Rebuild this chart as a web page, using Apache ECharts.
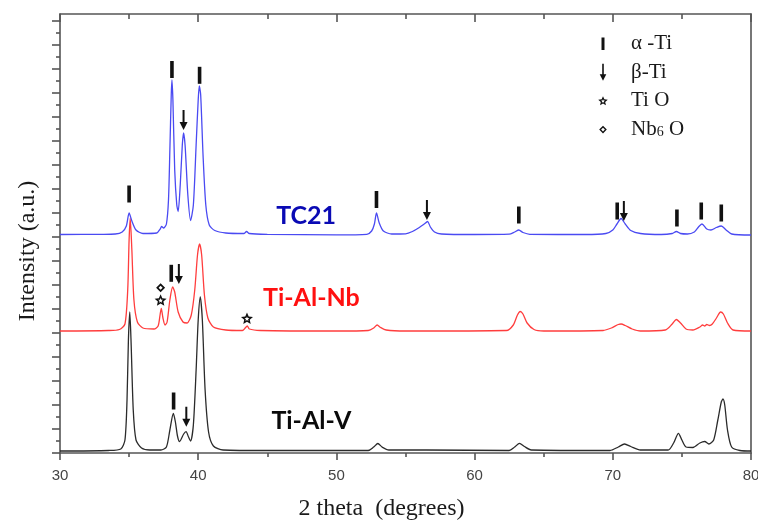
<!DOCTYPE html>
<html><head><meta charset="utf-8">
<script src="https://cdn.jsdelivr.net/npm/echarts@6/dist/echarts.min.js"></script>
<style>html,body{margin:0;padding:0;background:#fff}#c{width:758px;height:523px}</style>
</head><body><div id="c"></div>
<script>
// ---- data: [2theta (deg), intensity (a.u.)] ----
const tc21 = [[30,218.5],[33,218.7],[34,219],[34.5,221],[34.8,227],[35,240],[35.2,232],[35.5,223],[36,219.5],[37,220],[37.25,224],[37.35,226.5],[37.5,225],[37.7,229],[37.85,253],[37.95,303],[38.05,358],[38.1,373],[38.17,353],[38.3,283],[38.45,248],[38.55,241.5],[38.7,268],[38.85,308],[38.94,320],[39.05,308],[39.25,258],[39.45,232.5],[39.65,248],[39.85,308],[40,353],[40.08,367],[40.18,358],[40.35,298],[40.55,248],[40.8,228],[41.2,222.5],[42,220],[43.3,219.5],[43.5,221.5],[43.7,219.5],[45,218.7],[50,218.2],[52.2,218.7],[52.55,222],[52.75,229],[52.9,240],[53.1,230],[53.4,222],[54,219],[55,219.2],[55.5,221.5],[56,225.5],[56.35,229],[56.6,231.5],[56.8,226],[57.1,221],[57.6,219],[60,218.5],[62.5,218.8],[62.9,221],[63.2,223],[63.5,220.5],[64,218.7],[68,218.5],[69.5,219.5],[70,223],[70.3,229],[70.6,234.5],[70.9,229],[71.3,222.5],[72,219.5],[73.5,218.5],[74.3,219.5],[74.6,221.5],[74.9,219.5],[75.4,219],[75.9,221],[76.2,226],[76.45,229],[76.8,224],[77.1,223],[77.5,225.5],[77.85,227],[78.2,223],[78.6,219],[80,218]];
const tiAlNb = [[30,122],[33.5,122.5],[34.3,123.5],[34.7,129],[34.9,163],[35,213],[35.08,235],[35.2,203],[35.35,153],[35.6,131],[36,125],[36.8,124],[37.1,127],[37.25,139],[37.33,144.5],[37.45,135],[37.6,128],[37.75,131],[37.95,153],[38.15,166],[38.3,161],[38.55,141],[38.9,131],[39.2,130],[39.5,138],[39.75,163],[39.95,198],[40.1,209],[40.25,198],[40.45,158],[40.7,135],[41.1,126],[42,123],[43.2,122.5],[43.4,125],[43.55,127],[43.7,124],[44.5,122.5],[50,122],[52.3,122.5],[52.7,125],[52.95,128],[53.2,125.5],[53.6,123],[55,122],[62.3,122.5],[62.8,128],[63.1,138],[63.3,141.5],[63.5,139],[63.8,130],[64.3,123.5],[65,122],[69.3,122.5],[69.9,125],[70.4,128.5],[70.6,129],[70.9,127.5],[71.4,124],[72,122],[73.8,123],[74.3,129],[74.6,133.5],[74.9,130],[75.3,124],[75.8,123],[76.3,126],[76.5,128],[76.65,127],[76.8,128.5],[77,127.5],[77.2,129],[77.5,135],[77.8,141],[78,139],[78.3,130],[78.7,123],[80,122]];
const tiAlV = [[30,2],[33.5,2.5],[34.4,4],[34.7,13],[34.85,53],[34.95,113],[35.05,141],[35.15,108],[35.3,43],[35.5,13],[35.9,5],[36.5,3],[37.3,3],[37.7,6],[37.95,23],[38.2,39.5],[38.35,31],[38.5,17],[38.65,11.5],[38.95,19],[39.12,21.3],[39.3,16],[39.45,12],[39.65,28],[39.85,83],[40,133],[40.15,156],[40.3,133],[40.5,63],[40.75,21],[41.1,7],[41.8,3],[45,2.5],[52.3,2.5],[52.7,6],[53,9.5],[53.3,6],[53.8,3],[56.5,3],[62.5,2.5],[62.9,6],[63.25,9.7],[63.6,6.5],[64.1,3],[69.8,2.5],[70.4,6],[70.85,9],[71.3,6.5],[72,3],[74,3],[74.4,10],[74.75,19.7],[75,13],[75.3,6],[75.8,5.5],[76.3,10],[76.65,11.5],[76.95,9],[77.3,13],[77.6,33],[77.85,51],[77.97,54],[78.1,48],[78.3,23],[78.6,6],[79.2,2.5],[80,2]];

// phase markers (position of each marker symbol)
const alphaMarks = [[35.0,259],[38.1,383.5],[40.1,377.7],[52.9,253.5],[63.2,238],[70.32,242],[74.64,235],[76.4,242],[77.85,240],[38.05,179.7],[38.22,52]];
const betaMarks = [[38.94,333],[56.55,243],[70.8,242],[38.6,179],[39.14,36.3]];
const tioMarks = [[37.28,153],[43.53,134.7]];
const nb6oMarks = [[37.28,165.3]];

// sample names
const sampleNames = ['TC21','Ti-Al-Nb','Ti-Al-V'];
const sampleLabelPos = [[47.81,237],[48.19,155],[48.19,32]];
const sampleColors = ['#0a0ab4','#ff1010','#0a0a0a'];
const curveColors = ['#4a4af2','#ff3d3d','#2b2b2b'];

const phaseNames = ['α -Ti','β-Ti','Ti O','Nb6O'];
const yMajor = [0,24,48,72,96,120,144,168,192,216,240,264,288,312,336,360,384,408,432];
const yMinor = [12,36,60,84,108,132,156,180,204,228,252,276,300,324,348,372,396,420];

// ---- symbol shapes ----
function starPath(cx, cy, R, r, hole) {
  const pts = [];
  for (let i = 0; i < 10; i++) {
    const a = -Math.PI / 2 + i * Math.PI / 5;
    const rad = i % 2 ? r : R;
    pts.push([cx + rad * Math.cos(a), cy + rad * Math.sin(a)]);
  }
  const f = p => p[0].toFixed(2) + ',' + p[1].toFixed(2);
  let d = 'M' + pts.map(f).join('L') + 'Z';
  const inner = pts.map(p => [cx + (p[0] - cx) * hole, cy + (p[1] - cy) * hole]).reverse();
  d += 'M' + inner.map(f).join('L') + 'Z';
  return d;
}
const arrowSym = 'path://M3,0h2v12h3l-4,8l-4,-8h3z';
const starSym = 'path://' + starPath(10, 10, 10, 4.6, 0.4);
const diamondSym = 'path://M10,0L20,10L10,20L0,10ZM10,5.5L5.5,10L10,14.5L14.5,10Z';
const legIcons = [
  'path://M0,0M28,17M3.5,2.5h3v12.5h-3z',
  'path://M0,0M28,17M4.2,0h1.6v10.5h2.5l-3.3,6.5l-3.3,-6.5h2.5z',
  'path://M0,0M28,17' + starPath(5, 8.8, 5, 2.3, 0.4),
  'path://M0,0M28,17M5,4.7L8.8,8.5L5,12.3L1.2,8.5ZM5,6.6L3.1,8.5L5,10.4L6.9,8.5Z'
];

const axisColor = '#555';
const ls = {color: axisColor, width: 1.6};
const serif = 'Liberation Serif';

const chart = echarts.init(document.getElementById('c'), null, {renderer: 'canvas'});
const lineSeries = [tiAlV, tiAlNb, tc21].map((d, k) => {
  const idx = 2 - k;
  return {
    type: 'line', name: sampleNames[idx], data: d, showSymbol: false, symbol: 'none',
    smooth: 0.25, lineStyle: {color: curveColors[idx], width: 1.3}, z: 2 + k, silent: true
  };
});
const mk = {color: '#111', opacity: 1};
const markSeries = [
  {type: 'scatter', name: phaseNames[0], data: alphaMarks, symbol: 'rect', symbolSize: [3.6, 17], itemStyle: mk},
  {type: 'scatter', name: phaseNames[1], data: betaMarks, symbol: arrowSym, symbolSize: [8, 20], symbolKeepAspect: false, itemStyle: mk},
  {type: 'scatter', name: phaseNames[2], data: tioMarks, symbol: starSym, symbolSize: 12, symbolKeepAspect: true, itemStyle: mk},
  {type: 'scatter', name: phaseNames[3], data: nb6oMarks, symbol: diamondSym, symbolSize: 9, itemStyle: mk}
].map(s => Object.assign(s, {z: 6, silent: true}));
const labelSeries = {
  type: 'scatter', name: 'labels', symbolSize: 0, silent: true, z: 7,
  itemStyle: {opacity: 1},
  data: sampleNames.map((n, i) => ({
    name: n, value: sampleLabelPos[i],
    label: {show: true, position: 'inside', formatter: '{b}', color: sampleColors[i],
      fontFamily: 'Lato', fontWeight: 'bold', fontSize: 25, textBorderWidth: 0}
  }))
};

chart.setOption({
  animation: false,
  backgroundColor: '#fff',
  grid: {left: 60, right: 7, top: 14, bottom: 70, containLabel: false, outerBoundsMode: 'none'},
  legend: {
    orient: 'vertical', left: 598, top: 33, itemWidth: 28, itemHeight: 17, itemGap: 7.7,
    selectedMode: false, padding: 0,
    data: phaseNames.map((n, i) => ({name: n, icon: legIcons[i], itemStyle: {color: '#111', opacity: 1}})),
    formatter: n => n === 'Nb6O' ? '{n|Nb}{s|6}{n| O}' : '{n|' + n + '}',
    textStyle: {
      fontFamily: serif, fontSize: 21, color: '#1a1a1a',
      rich: {
        n: {fontFamily: serif, fontSize: 21, color: '#1a1a1a', lineHeight: 17},
        s: {fontFamily: serif, fontSize: 14, color: '#1a1a1a', lineHeight: 8, padding: [5, 0, 0, 0]}
      }
    }
  },
  xAxis: [
    {type: 'value', min: 30, max: 80, interval: 10, position: 'bottom',
      axisLine: {onZero: false, lineStyle: ls},
      axisTick: {show: true, length: 7, lineStyle: ls},
      minorTick: {show: true, splitNumber: 2, length: 4, lineStyle: ls},
      splitLine: {show: false},
      axisLabel: {margin: 15, fontFamily: 'Liberation Sans', fontSize: 15, color: '#444'},
      name: '2 theta  (degrees)', nameLocation: 'middle', nameGap: 44,
      nameTextStyle: {fontFamily: serif, fontSize: 24, color: '#1a1a1a', padding: [0, 48, 0, 0]}},
    {type: 'value', min: 30, max: 80, interval: 10, position: 'top',
      axisLine: {onZero: false, lineStyle: ls},
      axisTick: {show: true, inside: true, length: 8, lineStyle: ls},
      minorTick: {show: true, splitNumber: 2, length: 5, lineStyle: ls},
      splitLine: {show: false}, axisLabel: {show: false}}
  ],
  yAxis: [
    {type: 'value', min: 0, max: 439, position: 'left',
      axisLine: {show: true, onZero: false, lineStyle: ls},
      axisTick: {show: true, length: 8, customValues: yMajor, lineStyle: ls},
      splitLine: {show: false}, axisLabel: {show: false},
      name: 'Intensity (a.u.)', nameLocation: 'middle', nameGap: 20,
      nameTextStyle: {fontFamily: serif, fontSize: 24, color: '#1a1a1a', padding: [0, 35, 0, 0]}},
    {type: 'value', min: 0, max: 439, position: 'left',
      axisLine: {show: false, onZero: false},
      axisTick: {show: true, length: 4, customValues: yMinor, lineStyle: ls},
      splitLine: {show: false}, axisLabel: {show: false}},
    {type: 'value', min: 0, max: 439, position: 'right',
      axisLine: {show: true, onZero: false, lineStyle: ls},
      axisTick: {show: false}, splitLine: {show: false}, axisLabel: {show: false}}
  ],
  series: [...lineSeries, ...markSeries, labelSeries]
});
</script></body></html>
